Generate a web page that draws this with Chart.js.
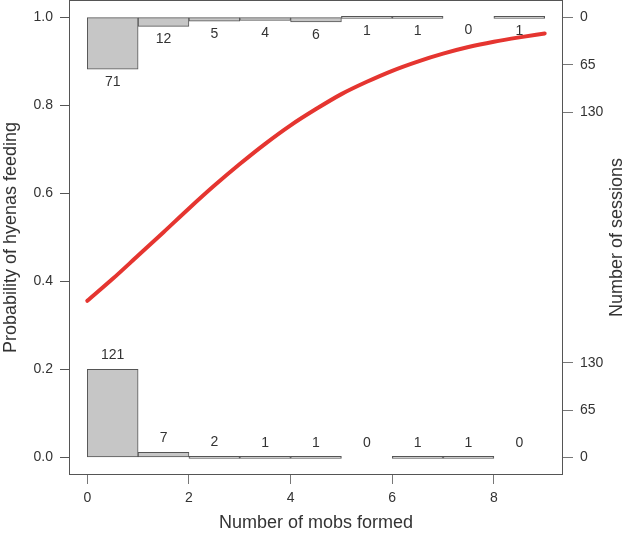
<!DOCTYPE html>
<html>
<head>
<meta charset="utf-8">
<script src="https://cdn.jsdelivr.net/npm/chart.js@4"></script>
<style>
  html, body { margin: 0; padding: 0; background: #fff; }
  #wrap { width: 624px; height: 534px; }
</style>
</head>
<body>
<div id="wrap"><canvas id="myChart" width="624" height="534"></canvas></div>
<script>
// values
const binStarts = [0, 1, 2, 3, 4, 5, 6, 7, 8];
const fedCounts = [71, 12, 5, 4, 6, 1, 1, 0, 1];      // hanging from 1.0
const notFedCounts = [121, 7, 2, 1, 1, 0, 1, 1, 0];   // standing on 0.0
const curveX = [0, 0.5, 1, 1.5, 2, 2.5, 3, 3.5, 4, 4.5, 5, 5.5, 6, 6.5, 7, 7.5, 8, 8.5, 9];
const curveP = [0.356, 0.406, 0.459, 0.512, 0.566, 0.618, 0.667, 0.713, 0.755, 0.792,
                0.826, 0.854, 0.879, 0.900, 0.918, 0.933, 0.945, 0.955, 0.964];
const probTicks = [0, 0.2, 0.4, 0.6, 0.8, 1.0];
const mobTicks = [0, 2, 4, 6, 8];
const sessionTicks = [0, 65, 130];

const histHeight = 0.2;  // tallest bar (121) reaches 0.2 on the probability axis
const maxCount = Math.max(...fedCounts, ...notFedCounts);
const k = histHeight / maxCount;

const FONT = "'Liberation Sans', Arial, sans-serif";
const TXT = '#333';
const AXC = '#555';

const bottomBars = [];
const topBars = [];
binStarts.forEach((b, i) => {
  if (notFedCounts[i] > 0) bottomBars.push({ x: b + 0.5, y: [0, notFedCounts[i] * k] });
  if (fedCounts[i] > 0) topBars.push({ x: b + 0.5, y: [1 - fedCounts[i] * k, 1] });
});

const sessionTickVals = [];
sessionTicks.forEach(s => { sessionTickVals.push(s * k); sessionTickVals.push(1 - s * k); });

// no extra room for half labels, the plot box runs to the canvas top
function noPad(s) {
  s.paddingTop = 0; s.paddingBottom = 0; s.paddingLeft = 0; s.paddingRight = 0;
}

// box around the plot, count labels, right title
const extras = {
  id: 'extras',
  afterDatasetsDraw(chart) {
    const { ctx, chartArea: a, scales: { x, y } } = chart;
    ctx.save();
    ctx.strokeStyle = AXC;
    ctx.lineWidth = 1;
    ctx.strokeRect(a.left + 0.5, a.top + 0.5, a.right - a.left - 1, a.bottom - a.top - 1);

    ctx.fillStyle = TXT;
    ctx.font = '14px ' + FONT;
    ctx.textAlign = 'center';
    ctx.textBaseline = 'middle';
    binStarts.forEach((b, i) => {
      const px = x.getPixelForValue(b + 0.5);
      ctx.fillText(String(fedCounts[i]), px, y.getPixelForValue(1 - fedCounts[i] * k) + 13);
      ctx.fillText(String(notFedCounts[i]), px, y.getPixelForValue(notFedCounts[i] * k) - 14);
    });

    ctx.font = '18px ' + FONT;
    ctx.translate(617, (a.top + a.bottom) / 2);
    ctx.rotate(-Math.PI / 2);
    ctx.fillText('Number of sessions', 0, 0);
    ctx.restore();
  }
};

const ctx = document.getElementById('myChart');
new Chart(ctx, {
  data: {
    datasets: [
      {
        type: 'line',
        data: curveX.map((v, i) => ({ x: v, y: curveP[i] })),
        borderColor: '#e53530',
        borderWidth: 4,
        pointRadius: 0,
        cubicInterpolationMode: 'monotone',
        borderCapStyle: 'round',
        order: 0
      },
      {
        type: 'bar',
        data: bottomBars,
        backgroundColor: '#c6c6c6',
        borderColor: AXC,
        borderWidth: 1,
        borderSkipped: false,
        minBarLength: 2,
        grouped: false,
        barPercentage: 1,
        categoryPercentage: 1,
        order: 1
      },
      {
        type: 'bar',
        data: topBars,
        backgroundColor: '#c6c6c6',
        borderColor: AXC,
        borderWidth: 1,
        borderSkipped: false,
        minBarLength: 2,
        grouped: false,
        barPercentage: 1,
        categoryPercentage: 1,
        order: 1
      }
    ]
  },
  options: {
    responsive: false,
    animation: false,
    layout: { padding: 0 },
    plugins: { legend: { display: false }, tooltip: { enabled: false } },
    scales: {
      x: {
        type: 'linear',
        offset: false,
        min: -0.36,
        max: 9.36,
        afterBuildTicks: s => { s.ticks = mobTicks.map(v => ({ value: v })); },
        afterFit: s => { s.height = 59; noPad(s); },
        border: { display: false },
        grid: { display: true, offset: false, drawOnChartArea: false, drawTicks: true, tickLength: 9, tickColor: '#777' },
        ticks: { color: TXT, font: { family: FONT, size: 14 }, padding: 6, maxRotation: 0 },
        title: { display: true, text: 'Number of mobs formed', color: TXT, font: { family: FONT, size: 18 }, padding: 0 }
      },
      y: {
        type: 'linear',
        position: 'left',
        min: -0.04,
        max: 1.04,
        afterBuildTicks: s => { s.ticks = probTicks.map(v => ({ value: v })); },
        afterFit: s => { s.width = 69; noPad(s); },
        border: { display: false },
        grid: { display: true, drawOnChartArea: false, drawTicks: true, tickLength: 9, tickColor: '#555' },
        ticks: { color: TXT, font: { family: FONT, size: 14 }, padding: 7, callback: v => v.toFixed(1) },
        title: { display: true, text: 'Probability of hyenas feeding', color: TXT, font: { family: FONT, size: 18 }, padding: { top: 0, bottom: 0 } }
      },
      y2: {
        type: 'linear',
        position: 'right',
        min: -0.04,
        max: 1.04,
        afterBuildTicks: s => { s.ticks = sessionTickVals.map(v => ({ value: v })); },
        afterFit: s => { s.width = 61; noPad(s); },
        border: { display: false },
        grid: { display: true, drawOnChartArea: false, drawTicks: true, tickLength: 10, tickColor: '#777' },
        ticks: {
          color: TXT, font: { family: FONT, size: 14 }, padding: 7,
          callback: v => String(Math.round((v > 0.5 ? 1 - v : v) / k))
        }
      }
    }
  },
  plugins: [extras]
});
</script>
</body>
</html>
